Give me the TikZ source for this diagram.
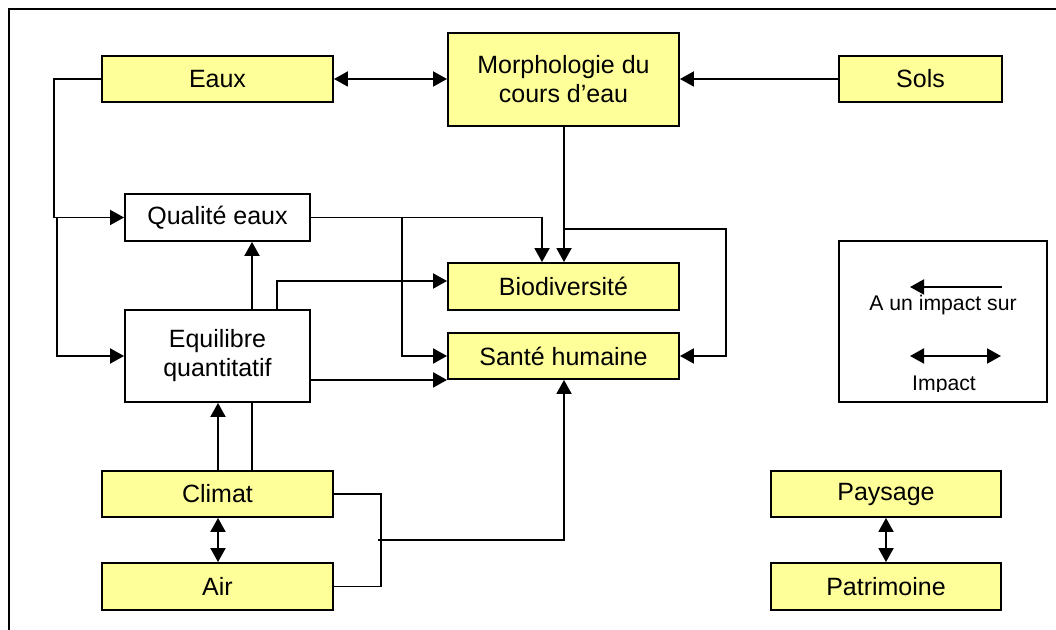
\documentclass[tikz,border=0pt]{standalone}
\usepackage{fontspec}
\setmainfont{Liberation Sans}
\usetikzlibrary{arrows.meta}
\definecolor{boxyellow}{RGB}{255,255,153}
\tikzset{
  box/.style={draw=black, line width=0.95pt, rectangle, align=center, inner sep=0pt,
              font=\fontsize{12.5}{14.5}\selectfont},
  ybox/.style={box, fill=boxyellow},
  wbox/.style={box, fill=white},
  conn/.style={line width=0.95pt},
  boxtext/.style={font=\fontsize{12.5}{14.5}\selectfont, inner sep=0pt},
  legtext/.style={font=\fontsize{10.6}{12}\selectfont, inner sep=0pt},
  >={Triangle[length=7pt,width=7.5pt]}
}
\begin{document}
\begin{tikzpicture}[x=0.5pt,y=-0.5pt]
\useasboundingbox (0,0) rectangle (1056,630);
% frame (top and left edges only visible)
\draw[line width=1.1pt] (9,630) -- (9,9) -- (1056,9);

% nodes
\node[ybox, minimum width=115.5pt, minimum height=23pt] (eaux) at (217.5,79) {Eaux};
\node[ybox, minimum width=115.5pt, minimum height=46.5pt] (morph) at (563.5,79.5) {Morphologie du\\cours d’eau};
\node[ybox, minimum width=81.5pt, minimum height=23pt] (sols) at (920.5,79) {Sols};
\node[wbox, minimum width=92.5pt, minimum height=23.5pt] (qual) at (217.5,217.5) {Qualité eaux};
\node[wbox, minimum width=92.5pt, minimum height=46pt] (equi) at (217.5,356) {Equilibre\\quantitatif};
\node[ybox, minimum width=115.5pt, minimum height=23.5pt] (bio) at (563.5,286.5) {Biodiversité};
\node[ybox, minimum width=115.5pt, minimum height=23pt] (sante) at (563.5,356) {Santé humaine};
\node[ybox, minimum width=115.5pt, minimum height=23pt] (climat) at (217.5,494) {Climat};
\node[ybox, minimum width=115.5pt, minimum height=23.5pt] (air) at (217.5,586.5) {Air};
\node[ybox, minimum width=115pt, minimum height=23pt] (pay) at (886,494) {};
\begin{scope}
\clip (775,475) rectangle (997,507.5);
\node[boxtext] (paytext) at (pay) {Paysage};
\end{scope}
\node[ybox, minimum width=115pt, minimum height=23.5pt] (pat) at (886,586.5) {Patrimoine};

% legend
\node[draw, line width=0.95pt, minimum width=104pt, minimum height=80.5pt, inner sep=0pt] (leg) at (943,321.5) {};
\coordinate (la1) at (1002,287);
\coordinate (la2) at (910,287);
\draw[conn,->] (la1) -- (la2);
\node[legtext] (legt1) at (943,305) {A un impact sur};
\coordinate (lb1) at (910,356);
\coordinate (lb2) at (1001,356);
\draw[conn,<->] (lb1) -- (lb2);
\begin{scope}
\clip (860,370) rectangle (1030,392);
\node[legtext] (legt2) at (944,385) {Impact};
\end{scope}

% connectors
\draw[conn,<->] (eaux.east) -- (eaux.east -| morph.west);
\draw[conn,->] (sols.west) -- (sols.west -| morph.east);
\draw[conn,->] (eaux.west) -- (54,79) |- (qual.west);
\coordinate (j1) at (57,217.5);
\draw[conn,->] (j1) |- (equi.west);

\draw[conn,->] ([xshift=0.25pt]morph.south) -- ([xshift=0.25pt]bio.north);
\coordinate (j2) at (564,229);
\draw[conn,->] (j2) -- (726,229) |- (sante.east);

\draw[conn,->] (qual.east) -| ([xshift=-10.75pt]bio.north);
\coordinate (j3) at (402,217.5);
\draw[conn,->] (j3) |- (sante.west);

\draw[conn,->] ([xshift=17.25pt]equi.north) -- ([xshift=17.25pt]qual.south);
\draw[conn,->] ([xshift=29.75pt]equi.north) |- ([yshift=2.75pt]bio.west);
\draw[conn,->] (equi.east |- sante.south west) -- (sante.south west);

\draw[conn,->] ([xshift=0.25pt]climat.north) -- ([xshift=0.25pt]equi.south);
\draw[conn] ([xshift=17.25pt]climat.north) -- ([xshift=17.25pt]equi.south);
\draw[conn,<->] ([xshift=0.25pt]climat.south) -- ([xshift=0.25pt]air.north);
\draw[conn] (climat.east) -- (381,494) |- (air.east);
\coordinate (j4) at (378,540);
\draw[conn,->] (j4) -| ([xshift=0.25pt]sante.south);

\draw[conn,<->] (pay.south) -- (pat.north);
\end{tikzpicture}
\end{document}
